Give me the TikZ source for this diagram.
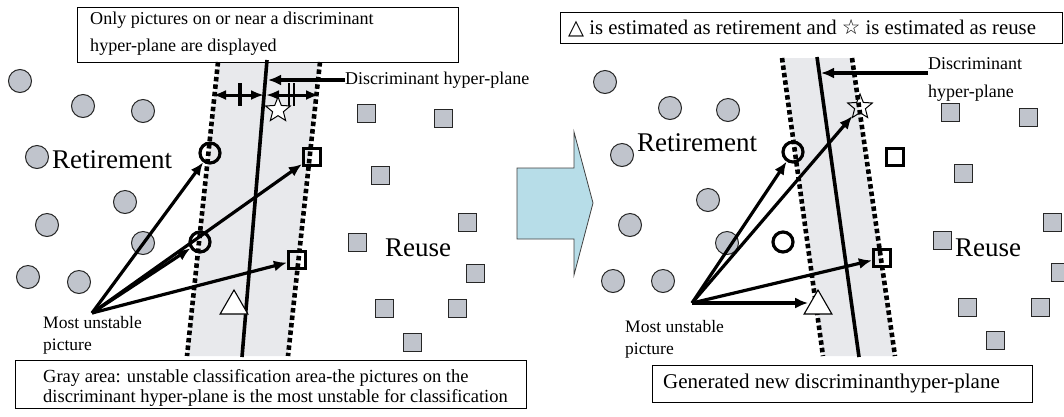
\documentclass[tikz,border=0pt]{standalone}
\usepackage{fontspec}
\setmainfont{Liberation Serif}
\newfontfamily\symfont{DejaVu Sans}
\usetikzlibrary{arrows.meta,shapes.geometric}
\definecolor{bandgray}{RGB}{232,233,236}
\definecolor{dotgray}{RGB}{192,196,204}
\definecolor{arrowblue}{RGB}{183,221,232}
\tikzset{
  pt/.style={circle,draw=black!85,fill=dotgray,line width=1pt,minimum size=23pt,inner sep=0pt},
  sq/.style={rectangle,draw=black!85,fill=dotgray,line width=1pt,minimum size=18pt,inner sep=0pt},
  ring/.style={circle,draw,line width=3.2pt,minimum size=20pt,inner sep=0pt},
  hollow/.style={rectangle,draw,line width=3.2pt,minimum size=17pt,inner sep=0pt},
  starmark/.style={star,star points=5,star point ratio=2.3,draw,fill=white,line width=1pt,minimum size=26pt,inner sep=0pt},
  trimark/.style={regular polygon,regular polygon sides=3,draw,fill=white,line width=1.1pt,minimum size=32pt,inner sep=0pt},
  bandedge/.style={line width=4.6pt,dash pattern=on 4.5pt off 3pt},
  plane/.style={line width=3.6pt},
  ptr/.style={-{Latex[length=13pt,width=11pt]},line width=3.2pt},
  dbl/.style={{Latex[length=13pt,width=10pt]}-{Latex[length=13pt,width=10pt]},line width=3pt},
  lbl/.style={inner sep=0pt,font=\fontsize{18}{22}\selectfont},
  biglbl/.style={inner sep=0pt,font=\fontsize{27}{30}\selectfont},
  note/.style={draw,line width=1pt}
}
\begin{document}
\begin{tikzpicture}[x=1pt,y=-1pt]
  \useasboundingbox (0,0) rectangle (1064,416);
  % left: unstable band
  \fill[bandgray] (218,62) -- (320,62) -- (288,356) -- (187,356) -- cycle;
  \draw[bandedge] (218,62) -- (187,356);
  \draw[bandedge] (320,62) -- (288,356);
  \draw[plane] (267,60) -- (242,357);
  \draw[note] (77,7) rectangle (458,62);
  \node[lbl,anchor=west,align=left,font=\fontsize{18.1}{27}\selectfont] (onlyNote) at (90,34) {Only pictures on or near a discriminant\\hyper-plane are displayed};
  \coordinate (tipL) at (268,80);
  \node[lbl,anchor=west] (dhL) at (345,80) {Discriminant hyper-plane};
  \draw[ptr] (dhL.west) -- (tipL);
  % margin arrows
  \coordinate (mL1) at (213,95); \coordinate (mL2) at (264,95);
  \coordinate (mL3) at (266,95); \coordinate (mL4) at (319,95);
  \draw[dbl] (mL1) -- (mL2);
  \draw[dbl] (mL3) -- (mL4);
  \draw[line width=4pt] (240,83) -- (240,106);
  \draw[line width=2pt] (289,83) -- (289,106) (294,83) -- (294,106);
  % retirement side
  \node[pt] (cL1) at (20,81) {};
  \node[pt] (cL2) at (83,106) {};
  \node[pt] (cL3) at (143,111) {};
  \node[pt] (cL4) at (37,157) {};
  \node[pt] (cL5) at (125,202) {};
  \node[pt] (cL6) at (47,225) {};
  \node[pt] (cL7) at (143,243) {};
  \node[pt] (cL8) at (28,277) {};
  \node[pt] (cL9) at (79,282) {};
  \node[biglbl,anchor=west] (retL) at (52,160) {Retirement};
  % reuse side
  \node[sq] (sL1) at (366,113) {};
  \node[sq] (sL2) at (443,118) {};
  \node[sq] (sL3) at (380,175) {};
  \node[sq] (sL4) at (467,222) {};
  \node[sq] (sL5) at (357,242) {};
  \node[sq] (sL6) at (475,273) {};
  \node[sq] (sL7) at (384,308) {};
  \node[sq] (sL8) at (457,308) {};
  \node[sq] (sL9) at (412,342) {};
  \node[biglbl,anchor=west] (reuL) at (385,248) {Reuse};
  % candidates
  \node[starmark] (starL) at (278,110) {};
  \node[trimark] (triL) at (234,306) {};
  \node[ring] (ringL1) at (210,153) {};
  \node[ring] (ringL2) at (200,242) {};
  \node[hollow] (boxL1) at (312,157) {};
  \node[hollow] (boxL2) at (297,260) {};
  \coordinate (muL) at (92,313);
  \draw[ptr] (muL) -- (ringL1);
  \draw[ptr] (muL) -- (boxL1);
  \draw[ptr] (muL) -- (ringL2);
  \draw[ptr] (muL) -- (boxL2);
  \node[lbl,anchor=west,align=left,font=\fontsize{17.5}{22}\selectfont] (muLbl) at (43,335) {Most unstable\\picture};
  \draw[note] (15,360) rectangle (526,408);
  \node[lbl,anchor=west,align=left,font=\fontsize{18.5}{20.5}\selectfont] (grayNote) at (43,388) {Gray area: unstable classification area-the pictures on the\\discriminant hyper-plane is the most unstable for classification};
  % big arrow
  \draw[fill=arrowblue,draw=black!75,line width=0.8pt] (517,168) -- (574,168) -- (574,132) -- (593,203) -- (574,275) -- (574,239) -- (517,239) -- cycle;
  % right: new band
  \fill[bandgray] (782,58) -- (852,58) -- (895,356) -- (823,356) -- cycle;
  \draw[bandedge] (782,58) -- (823,356);
  \draw[bandedge] (852,58) -- (895,356);
  \draw[plane] (817,57) -- (859,357);
  \draw[note] (560,12) rectangle (1062,43);
  \node[lbl,anchor=west,font=\fontsize{20.8}{22}\selectfont] (estNote) at (568,28) {{\symfont △} is estimated as retirement and {\symfont ☆} is estimated as reuse};
  \coordinate (tipR) at (821,73);
  \node[lbl,anchor=north west,align=left,font=\fontsize{18}{28}\selectfont] (dhR) at (928,57) {Discriminant\\hyper-plane};
  \draw[ptr] (dhR.west |- tipR) -- (tipR);
  \node[pt] (cR1) at (605,82) {};
  \node[pt] (cR2) at (670,108) {};
  \node[pt] (cR3) at (728,110) {};
  \node[pt] (cR4) at (622,155) {};
  \node[pt] (cR5) at (708,200) {};
  \node[pt] (cR6) at (630,225) {};
  \node[pt] (cR7) at (727,243) {};
  \node[pt] (cR8) at (613,281) {};
  \node[pt] (cR9) at (663,281) {};
  \node[biglbl,anchor=west] (retR) at (637,143) {Retirement};
  \node[sq] (sR1) at (950,112) {};
  \node[sq] (sR2) at (1028,117) {};
  \node[sq] (sR3) at (963,173) {};
  \node[sq] (sR4) at (1052,222) {};
  \node[sq] (sR5) at (942,240) {};
  \node[sq] (sR6) at (1060,272) {};
  \node[sq] (sR7) at (967,307) {};
  \node[sq] (sR8) at (1040,307) {};
  \node[sq] (sR9) at (995,340) {};
  \node[biglbl,anchor=west] (reuR) at (955,248) {Reuse};
  \node[hollow] (boxR1) at (895,157) {};
  \node[hollow] (boxR2) at (882,258) {};
  \node[ring] (ringR1) at (793,152) {};
  \node[ring] (ringR2) at (783,242) {};
  \node[starmark,fill=none] (starR) at (860,107) {};
  \node[trimark] (triR) at (818,306) {};
  \coordinate (muR) at (692,303);
  \draw[ptr] (muR) -- (ringR1);
  \draw[ptr] (muR) -- (starR);
  \draw[ptr] (muR) -- (boxR2);
  \draw[ptr] (muR) -- (triR.west |- muR);
  \node[lbl,anchor=west,align=left,font=\fontsize{17.5}{22}\selectfont] (muRLbl) at (625,339) {Most unstable\\picture};
  \draw[note] (652,365) rectangle (1032,402);
  \node[lbl,anchor=west,font=\fontsize{21}{22}\selectfont] (genNote) at (663,383) {Generated new discriminanthyper-plane};
\end{tikzpicture}
\end{document}
